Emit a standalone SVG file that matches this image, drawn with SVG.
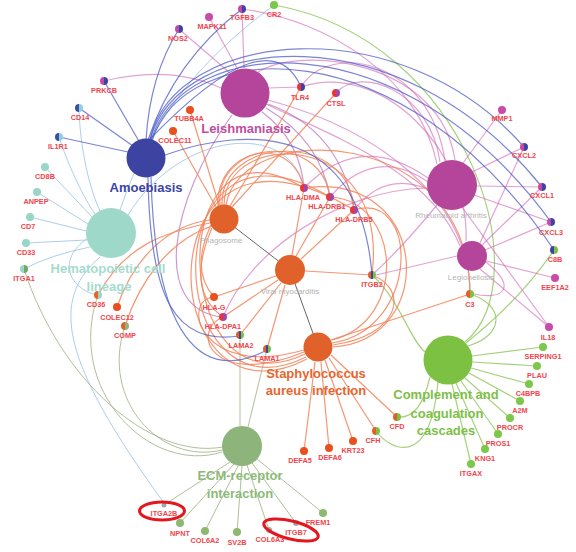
<svg xmlns="http://www.w3.org/2000/svg" width="576" height="552" viewBox="0 0 576 552">
<defs>
<linearGradient id="gMB"><stop offset=".5" stop-color="#C24AA5"/><stop offset=".5" stop-color="#3B44A6"/></linearGradient>
<linearGradient id="gBT"><stop offset=".5" stop-color="#3B4EA8"/><stop offset=".5" stop-color="#8FCFE0"/></linearGradient>
<linearGradient id="gOT"><stop offset=".5" stop-color="#E8602A"/><stop offset=".5" stop-color="#9AD6C8"/></linearGradient>
<linearGradient id="gOG"><stop offset=".5" stop-color="#E0602A"/><stop offset=".5" stop-color="#7DC143"/></linearGradient>
<linearGradient id="gOE"><stop offset=".5" stop-color="#E0602A"/><stop offset=".5" stop-color="#8DB47A"/></linearGradient>
<linearGradient id="gBG"><stop offset=".5" stop-color="#3B44A6"/><stop offset=".5" stop-color="#7DC143"/></linearGradient>
<linearGradient id="gRM"><stop offset=".5" stop-color="#E8353A"/><stop offset=".5" stop-color="#A048A8"/></linearGradient>
<linearGradient id="gRB"><stop offset=".5" stop-color="#E8353A"/><stop offset=".5" stop-color="#3B44A6"/></linearGradient>
<linearGradient id="gTG"><stop offset=".5" stop-color="#9AD6C8"/><stop offset=".5" stop-color="#6FA860"/></linearGradient>
<linearGradient id="gOBG"><stop offset=".34" stop-color="#E0602A"/><stop offset=".34" stop-color="#3B44A6"/><stop offset=".67" stop-color="#3B44A6"/><stop offset=".67" stop-color="#7DC143"/></linearGradient>
<style>
.e{fill:none;stroke-width:1.2}
.eb{stroke:#4C5BC6;stroke-opacity:.75}
.em{stroke:#D064B4;stroke-opacity:.6}
.ep{stroke:#A855B0;stroke-opacity:.6}
.eo{stroke:#F2845A;stroke-opacity:.85}
.et{stroke:#9EC6E6;stroke-opacity:.85;stroke-width:1}
.eg{stroke:#9CCC6E;stroke-opacity:.9}
.ee{stroke:#A6B88E;stroke-opacity:.9;stroke-width:1}
.ek{stroke:#666;stroke-width:1}
.gl{font-family:"Liberation Sans",Arial,sans-serif;font-weight:bold;font-size:7.3px;fill:#F2454C;text-anchor:middle}
.sl{font-family:"Liberation Sans",Arial,sans-serif;font-size:8px;fill:#B4B4B4;text-anchor:middle}
.hl{font-family:"Liberation Sans",Arial,sans-serif;font-weight:bold;font-size:13px;text-anchor:middle}
.mag{fill:#C84CA8}.teal{fill:#9AD6C8}.org{fill:#E8501E}.grn{fill:#7CC84A}.olv{fill:#8DB870}.gry{fill:#A0A8B0}
.ring{fill:none;stroke:#E5161E;stroke-width:3}
</style>
</defs>
<rect width="576" height="552" fill="#fff"/>
<g id="connectors">
<!-- Hematopoietic -->
<path class="e et" d="M92,217 L45,167"/>
<path class="e et" d="M88,224 L37,192"/>
<path class="e et" d="M86,231 L30,217"/>
<path class="e et" d="M87,240 L26,243"/>
<path class="e et" d="M90,247 Q50,255 24,269"/>
<path class="e et" d="M88,238 C55,260 70,290 98,295"/>
<path class="e et" d="M79,108 C80,150 90,190 100,211"/>
<path class="e et" d="M59,137 C70,170 85,200 95,214"/>
<path class="e et" d="M120,210 C150,120 200,60 274,5"/>
<path class="e et" d="M100,257 C50,300 60,360 164,503"/>
<path class="e et" d="M128,215 C180,130 290,120 304,188"/>
<!-- ECM -->
<path class="e ee" d="M230,462 L164,505"/>
<path class="e ee" d="M234,464 L180,523"/>
<path class="e ee" d="M238,466 L205,531"/>
<path class="e ee" d="M242,466 L237,532"/>
<path class="e ee" d="M247,465 L269,530"/>
<path class="e ee" d="M252,463 L296,523"/>
<path class="e ee" d="M257,459 L323,513"/>
<path class="e ee" d="M240,426 L240,335"/>
<path class="e ee" d="M248,427 L267,349"/>
<path class="e ee" d="M125,326 C100,400 160,465 222,450"/>
<path class="e ee" d="M98,295 C65,390 150,475 222,452"/>
<path class="e ee" d="M24,269 C60,380 150,460 223,447"/>
<!-- Complement -->
<path class="e eg" d="M472,356 L543,347"/>
<path class="e eg" d="M472,362 L537,366"/>
<path class="e eg" d="M471,368 L529,384"/>
<path class="e eg" d="M469,373 L520,401"/>
<path class="e eg" d="M465,378 L510,418"/>
<path class="e eg" d="M461,381 L498,434"/>
<path class="e eg" d="M456,383 L485,449"/>
<path class="e eg" d="M452,384 L471,464"/>
<path class="e eg" d="M430,377 Q420,420 397,417"/>
<path class="e eg" d="M438,382 C430,470 390,450 376,431"/>
<path class="e eg" d="M470,294 C505,305 505,335 468,346"/>
<path class="e eg" d="M466,343 Q520,300 554,250"/>
<path class="e eg" d="M274,5 C470,40 540,280 465,342" stroke="#9AAE70"/>
<path class="e eg" d="M372,275 C400,300 410,340 425,352"/>
<!-- Leishmaniasis -->
<path class="e em" d="M266,104 C330,135 430,170 460,246" stroke-width="4" stroke-opacity=".3"/>
<path class="e em" d="M258,72 C300,45 440,60 455,160" stroke-width="5" stroke-opacity=".25"/>
<path class="e em" d="M238,70 L209,17"/>
<path class="e em" d="M244,68 L242,9"/>
<path class="e em" d="M230,73 L179,29"/>
<path class="e em" d="M104,81 Q170,65 221,88"/>
<path class="e em" d="M268,88 L301,87"/>
<path class="e ep" d="M262,112 Q300,140 304,188"/>
<path class="e ep" d="M266,108 Q320,140 330,197"/>
<path class="e ep" d="M268,104 Q340,130 354,210"/>
<path class="e ep" d="M232,115 C170,200 150,310 223,317"/>
<path class="e em" d="M268,100 C380,130 470,200 470,294"/>
<!-- Rheumatoid arthritis -->
<path class="e em" d="M463,163 L502,110"/>
<path class="e em" d="M472,172 L524,147"/>
<path class="e em" d="M476,186 L542,187"/>
<path class="e em" d="M474,195 L551,222"/>
<path class="e em" d="M462,207 L549,327"/>
<path class="e em" d="M301,87 C330,40 430,60 445,161"/>
<path class="e em" d="M336,93 C360,65 430,90 440,162"/>
<path class="e em" d="M242,9 C330,20 420,80 437,164"/>
<path class="e em" d="M428,178 Q360,130 304,188"/>
<path class="e em" d="M428,182 Q375,145 330,197"/>
<path class="e em" d="M430,190 Q385,170 354,210"/>
<path class="e em" d="M437,205 Q400,250 372,275"/>
<path class="e em" d="M427,188 C340,190 250,250 223,317"/>
<!-- Legionellosis -->
<path class="e em" d="M480,243 L524,147"/>
<path class="e em" d="M482,245 L542,187"/>
<path class="e em" d="M485,250 L551,222"/>
<path class="e em" d="M486,261 L555,278" stroke-width="2.5" stroke-opacity=".45"/>
<path class="e em" d="M480,269 L549,327"/>
<path class="e em" d="M486,262 C520,290 500,300 474,294"/>
<path class="e em" d="M457,256 L376,275"/>
<path class="e em" d="M301,87 C380,60 470,150 466,241"/>
<!-- Phagosome -->
<path class="e eo" d="M219,205 L190,110"/>
<path class="e eo" d="M216,207 L173,131"/>
<path class="e eo" d="M117,307 C135,255 170,225 210,220"/>
<path class="e eo" d="M98,295 C125,245 165,232 210,223"/>
<path class="e eo" d="M125,326 C140,280 170,240 212,226"/>
<path class="e eo" d="M218,206 C215,150 290,130 304,188" stroke-width="1.8"/>
<path class="e eo" d="M220,205 C215,140 320,130 330,197" stroke-width="1.8"/>
<path class="e eo" d="M222,205 C220,135 350,130 354,210" stroke-width="1.8"/>
<path class="e eo" d="M224,205 C225,128 390,128 372,275" stroke-width="1.8"/>
<path class="e eo" d="M226,205 C240,118 470,125 470,294" stroke-width="1.8"/>
<path class="e eo" d="M232,207 L336,93"/>
<path class="e eo" d="M230,206 L301,87"/>
<path class="e eo" d="M211,225 Q190,270 214,297"/>
<path class="e eo" d="M212,228 Q185,290 223,317"/>
<!-- Viral myocarditis -->
<path class="e eo" d="M292,255 L304,188"/>
<path class="e eo" d="M296,256 L330,197"/>
<path class="e eo" d="M301,259 L354,210"/>
<path class="e eo" d="M305,271 L372,275"/>
<path class="e eo" d="M276,276 L214,297"/>
<path class="e eo" d="M278,280 L223,317"/>
<path class="e eo" d="M281,283 L240,335"/>
<path class="e eo" d="M285,285 L267,349"/>
<path class="e ek" d="M224,219 L290,270"/>
<path class="e ek" d="M290,270 L318,347"/>
<!-- Staphylococcus -->
<path class="e eo" d="M315,362 L304,451"/>
<path class="e eo" d="M321,362 L329,448"/>
<path class="e eo" d="M325,360 L353,441"/>
<path class="e eo" d="M329,358 L376,431"/>
<path class="e eo" d="M331,355 L397,417"/>
<path class="e eo" d="M331,340 L470,294"/>
<path class="e eo" d="M305,354 C170,420 160,100 304,188" stroke-width="1.6"/>
<path class="e eo" d="M306,357 C160,430 150,90 330,197" stroke-width="1.6"/>
<path class="e eo" d="M307,359 C150,440 140,80 354,210" stroke-width="1.6"/>
<path class="e eo" d="M304,350 C200,380 180,300 214,297"/>
<path class="e eo" d="M304,352 C210,390 190,330 223,317"/>
<path class="e eo" d="M332,343 C420,330 420,190 354,210" stroke-width="1.6"/>
<path class="e eo" d="M332,340 C410,320 400,200 330,197" stroke-width="1.6"/>
<path class="e eo" d="M333,345 C400,335 410,290 372,275"/>
<path class="e eo" d="M333,347 C440,340 430,170 304,188" stroke-width="1.6"/>
<!-- Amoebiasis -->
<path class="e eb" d="M146,140 Q150,75 179,29"/>
<path class="e eb" d="M148,140 Q175,60 242,9"/>
<path class="e eb" d="M140,143 L104,81" stroke-width="1.6"/>
<path class="e eb" d="M133,146 L79,108" stroke-width="1.6"/>
<path class="e eb" d="M128,152 L59,137" stroke="#6F86D0" stroke-width="2.2" stroke-opacity=".6"/>
<path class="e eb" d="M150,139 Q270,15 301,87"/>
<path class="e eb" d="M150,139 C175,30 400,5 524,147" stroke="#3D48B0" stroke-width="2.8" stroke-opacity=".85"/>
<path class="e eb" d="M150,140 C180,32 400,10 542,187"/>
<path class="e eb" d="M151,141 C182,35 400,15 551,222"/>
<path class="e eb" d="M152,141 C184,38 400,22 554,250"/>
<path class="e eb" d="M148,177 C150,300 175,345 240,336" stroke-width="1.6"/>
<path class="e eb" d="M151,177 C155,335 200,385 267,350" stroke-width="1.6"/>
<path class="e eb" d="M165,155 C250,125 360,125 372,275" stroke-width="1"/>
</g>
<g id="hub-amoebiasis"><circle cx="146" cy="158" r="19.5" fill="#3D43A0"/><text class="hl" x="146" y="192" fill="#3B44A8">Amoebiasis</text></g>
<g id="hub-leishmaniasis"><circle cx="245" cy="93" r="24.5" fill="#B5459A"/><text class="hl" x="246" y="133" fill="#C04EA0">Leishmaniasis</text></g>
<g id="hub-rheumatoid"><circle cx="452" cy="185" r="25" fill="#B5459A"/><text class="sl" x="451" y="218">Rheumatoid arthritis</text></g>
<g id="hub-legionellosis"><circle cx="472" cy="256" r="15" fill="#B5459A"/><text class="sl" x="471" y="280">Legionellosis</text></g>
<g id="hub-hematopoietic"><circle cx="111" cy="233" r="25" fill="#9ED8C8"/><text class="hl" x="108" y="273" fill="#A6DCCF">Hematopoietic cell</text><text class="hl" x="109" y="291" fill="#A6DCCF">lineage</text></g>
<g id="hub-phagosome"><circle cx="224" cy="219" r="14.5" fill="#E0622A"/><text class="sl" x="221" y="243">Phagosome</text></g>
<g id="hub-viral"><circle cx="290" cy="270" r="15" fill="#E0622A"/><text class="sl" x="290" y="294">Viral myocarditis</text></g>
<g id="hub-staph"><circle cx="318" cy="347" r="14.5" fill="#E0622A"/><text class="hl" x="316" y="378" fill="#E8652E">Staphylococcus</text><text class="hl" x="316" y="395" fill="#E8652E">aureus infection</text></g>
<g id="hub-complement"><circle cx="448" cy="360" r="24.5" fill="#7DC143"/><text class="hl" x="446" y="399" fill="#7DC048">Complement and</text><text class="hl" x="447" y="418" fill="#7DC048">coagulation</text><text class="hl" x="446" y="435" fill="#7DC048">cascades</text></g>
<g id="hub-ecm"><circle cx="242" cy="446" r="20" fill="#8DB47A"/><text class="hl" x="240" y="480" fill="#8DBA78">ECM-receptor</text><text class="hl" x="240" y="498" fill="#8DBA78">interaction</text></g>

<g id="n-NOS2"><circle cx="179" cy="29" r="4" fill="url(#gMB)"/><text class="gl" x="178" y="40.5">NOS2</text></g>
<g id="n-MAPK11"><circle cx="209" cy="17" r="4" class="mag"/><text class="gl" x="212" y="28.5">MAPK11</text></g>
<g id="n-TGFB3"><circle cx="242" cy="9" r="4" fill="url(#gMB)"/><text class="gl" x="242" y="19.5">TGFB3</text></g>
<g id="n-CR2"><circle cx="274" cy="5" r="4" class="grn"/><text class="gl" x="274" y="16.5">CR2</text></g>
<g id="n-PRKCB"><circle cx="104" cy="81" r="4" fill="url(#gMB)"/><text class="gl" x="104" y="92.5">PRKCB</text></g>
<g id="n-CD14"><circle cx="79" cy="108" r="4" fill="url(#gBT)"/><text class="gl" x="80" y="119.5">CD14</text></g>
<g id="n-IL1R1"><circle cx="59" cy="137" r="4" fill="url(#gBT)"/><text class="gl" x="58" y="148.5">IL1R1</text></g>
<g id="n-CD8B"><circle cx="45" cy="167" r="4" class="teal"/><text class="gl" x="45" y="178.5">CD8B</text></g>
<g id="n-ANPEP"><circle cx="37" cy="192" r="4" class="teal"/><text class="gl" x="36" y="203.5">ANPEP</text></g>
<g id="n-CD7"><circle cx="30" cy="217" r="4" class="teal"/><text class="gl" x="28" y="228.5">CD7</text></g>
<g id="n-CD33"><circle cx="26" cy="243" r="4" class="teal"/><text class="gl" x="26" y="254.5">CD33</text></g>
<g id="n-ITGA1"><circle cx="24" cy="269" r="4" fill="url(#gTG)"/><text class="gl" x="24" y="280.5">ITGA1</text></g>
<g id="n-CD36"><circle cx="98" cy="295" r="4" fill="url(#gOT)"/><text class="gl" x="96" y="306.5">CD36</text></g>
<g id="n-COLEC12"><circle cx="117" cy="307" r="4" class="org"/><text class="gl" x="117" y="319.5">COLEC12</text></g>
<g id="n-COMP"><circle cx="125" cy="326" r="4" fill="url(#gOE)"/><text class="gl" x="125" y="337.5">COMP</text></g>
<g id="n-TUBB4A"><circle cx="190" cy="110" r="4" class="org"/><text class="gl" x="189" y="121">TUBB4A</text></g>
<g id="n-COLEC11"><circle cx="173" cy="131" r="4" class="org"/><text class="gl" x="175" y="142.5">COLEC11</text></g>
<g id="n-TLR4"><circle cx="301" cy="87" r="4" fill="url(#gRB)"/><text class="gl" x="300" y="99.5">TLR4</text></g>
<g id="n-CTSL"><circle cx="336" cy="93" r="4" fill="url(#gRM)"/><text class="gl" x="336" y="105.5">CTSL</text></g>
<g id="n-MMP1"><circle cx="502" cy="110" r="4" class="mag"/><text class="gl" x="502" y="120.5">MMP1</text></g>
<g id="n-CXCL2"><circle cx="524" cy="147" r="4" fill="url(#gMB)"/><text class="gl" x="524" y="157.5">CXCL2</text></g>
<g id="n-CXCL1"><circle cx="542" cy="187" r="4" fill="url(#gMB)"/><text class="gl" x="542" y="197.5">CXCL1</text></g>
<g id="n-CXCL3"><circle cx="551" cy="222" r="4" fill="url(#gMB)"/><text class="gl" x="551" y="234.5">CXCL3</text></g>
<g id="n-C8B"><circle cx="554" cy="250" r="4" fill="url(#gBG)"/><text class="gl" x="555" y="261.5">C8B</text></g>
<g id="n-EEF1A2"><circle cx="555" cy="278" r="4" class="mag"/><text class="gl" x="555" y="289.5">EEF1A2</text></g>
<g id="n-IL18"><circle cx="549" cy="327" r="4" class="mag"/><text class="gl" x="548" y="339.5">IL18</text></g>
<g id="n-C3"><circle cx="470" cy="294" r="4" fill="url(#gOG)"/><text class="gl" x="470" y="306.5">C3</text></g>
<g id="n-HLA-DMA"><circle cx="304" cy="188" r="4" fill="url(#gRM)"/><text class="gl" x="303" y="199.5">HLA-DMA</text></g>
<g id="n-HLA-DRB1"><circle cx="330" cy="197" r="4" fill="url(#gRM)"/><text class="gl" x="327" y="208.5">HLA-DRB1</text></g>
<g id="n-HLA-DRB5"><circle cx="354" cy="210" r="4" fill="url(#gRM)"/><text class="gl" x="354" y="221.5">HLA-DRB5</text></g>
<g id="n-ITGB2"><circle cx="372" cy="275" r="4" fill="url(#gOBG)"/><text class="gl" x="372" y="286.5">ITGB2</text></g>
<g id="n-HLA-G"><circle cx="214" cy="297" r="4" class="org"/><text class="gl" x="214" y="309.5">HLA-G</text></g>
<g id="n-HLA-DPA1"><circle cx="223" cy="317" r="4" fill="url(#gRM)"/><text class="gl" x="223" y="328.5">HLA-DPA1</text></g>
<g id="n-LAMA2"><circle cx="240" cy="335" r="4" fill="url(#gOBG)"/><text class="gl" x="241" y="347.5">LAMA2</text></g>
<g id="n-LAMA1"><circle cx="267" cy="349" r="4" fill="url(#gOBG)"/><text class="gl" x="267" y="360.5">LAMA1</text></g>
<g id="n-DEFA5"><circle cx="304" cy="451" r="4" class="org"/><text class="gl" x="300" y="462.5">DEFA5</text></g>
<g id="n-DEFA6"><circle cx="329" cy="448" r="4" class="org"/><text class="gl" x="330" y="459.5">DEFA6</text></g>
<g id="n-KRT23"><circle cx="353" cy="441" r="4" class="org"/><text class="gl" x="353" y="452.5">KRT23</text></g>
<g id="n-CFH"><circle cx="376" cy="431" r="4" fill="url(#gOG)"/><text class="gl" x="373" y="442.5">CFH</text></g>
<g id="n-CFD"><circle cx="397" cy="417" r="4" fill="url(#gOG)"/><text class="gl" x="397" y="428.5">CFD</text></g>
<g id="n-SERPING1"><circle cx="543" cy="347" r="4" class="grn"/><text class="gl" x="543" y="358.5">SERPING1</text></g>
<g id="n-PLAU"><circle cx="537" cy="366" r="4" class="grn"/><text class="gl" x="537" y="377.5">PLAU</text></g>
<g id="n-C4BPB"><circle cx="529" cy="384" r="4" class="grn"/><text class="gl" x="528" y="395.5">C4BPB</text></g>
<g id="n-A2M"><circle cx="520" cy="401" r="4" class="grn"/><text class="gl" x="520" y="412.5">A2M</text></g>
<g id="n-PROCR"><circle cx="510" cy="418" r="4" class="grn"/><text class="gl" x="510" y="429.5">PROCR</text></g>
<g id="n-PROS1"><circle cx="498" cy="434" r="4" class="grn"/><text class="gl" x="498" y="445.5">PROS1</text></g>
<g id="n-KNG1"><circle cx="485" cy="449" r="4" class="grn"/><text class="gl" x="485" y="460.5">KNG1</text></g>
<g id="n-ITGAX"><circle cx="471" cy="464" r="4" class="grn"/><text class="gl" x="471" y="475.5">ITGAX</text></g>
<g id="n-ITGA2B"><circle cx="164" cy="505" r="2.5" class="gry"/><text class="gl" x="164" y="515.5">ITGA2B</text></g>
<g id="n-NPNT"><circle cx="180" cy="523" r="4" class="olv"/><text class="gl" x="180" y="535.5">NPNT</text></g>
<g id="n-COL6A2"><circle cx="205" cy="531" r="4" class="olv"/><text class="gl" x="205" y="542.5">COL6A2</text></g>
<g id="n-SV2B"><circle cx="237" cy="532" r="4" class="olv"/><text class="gl" x="237" y="544.5">SV2B</text></g>
<g id="n-COL6A3"><circle cx="269" cy="530" r="3" class="gry"/><text class="gl" x="270" y="541.5">COL6A3</text></g>
<g id="n-ITGB7"><circle cx="296" cy="523" r="3" class="gry"/><text class="gl" x="296" y="534.5">ITGB7</text></g>
<g id="n-FREM1"><circle cx="323" cy="513" r="4" class="olv"/><text class="gl" x="318" y="524.5">FREM1</text></g>
<g id="highlights">
<ellipse class="ring" cx="162" cy="511" rx="22.5" ry="9"/>
<ellipse class="ring" cx="291" cy="530" rx="28" ry="9" transform="rotate(14 291 530)"/>
</g>
</svg>
